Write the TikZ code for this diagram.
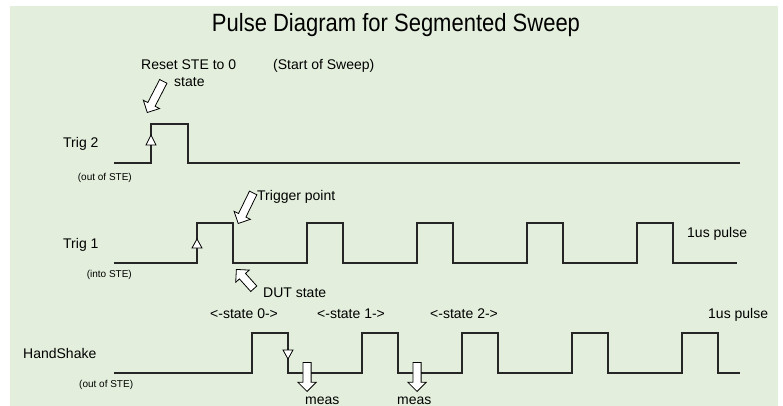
\documentclass[tikz,border=0pt]{standalone}
\usepackage{fontspec}
\setmainfont{Liberation Sans}
\usetikzlibrary{shapes.arrows}
\definecolor{bg}{HTML}{E3EFDC}
\begin{document}
\begin{tikzpicture}[x=1pt,y=-1pt,
  sig/.style={line width=1.1pt, draw=black!85, line join=miter},
  lbl/.style={font=\fontsize{14}{16}\selectfont, inner sep=0pt},
  smalllbl/.style={font=\fontsize{10}{12}\selectfont, inner sep=0pt},
  blk/.style={single arrow, draw=black, line width=0.8pt, fill=white,
    minimum width=18pt, inner sep=3.7pt, single arrow head extend=5pt,
    single arrow head indent=0pt},
  tri/.style={draw=black, line width=0.8pt, fill=white}]
\useasboundingbox (0,0) rectangle (783,406);
\fill[bg] (10,6) rectangle (778,406);

% title
\node[inner sep=0pt, anchor=base, font=\fontsize{25}{28}\selectfont, xscale=0.88] (title) at (396,32) {Pulse Diagram for Segmented Sweep};

% Trig 2
\draw[sig] (114,163) -- (151,163) -- (151,124) -- (188,124) -- (188,163) -- (740,163);
\draw[tri] (151,135) -- (146,145) -- (156,145) -- cycle;
\node[lbl, anchor=base west] (trig2) at (63,148) {Trig 2};
\node[smalllbl, anchor=base east] (out2) at (132,180) {(out of STE)};
\node[lbl, anchor=base west] (reset) at (141,70) {Reset STE to 0};
\node[lbl, anchor=base west] (resetb) at (174,87) {state};
\node[lbl, anchor=base west] (start) at (273,70) {(Start of Sweep)};
\node[blk, minimum height=35pt, rotate=242.7, anchor=tip] (resetarrow) at (147,113) {};

% Trig 1
\draw[sig] (114,263) -- (197,263) -- (197,223) -- (233,223) -- (233,263)
  -- (307,263) -- (307,223) -- (343,223) -- (343,263)
  -- (417,263) -- (417,223) -- (453,223) -- (453,263)
  -- (527,263) -- (527,223) -- (563,223) -- (563,263)
  -- (637,263) -- (637,223) -- (673,223) -- (673,263) -- (737,263);
\draw[tri] (197,239) -- (192,248) -- (202,248) -- cycle;
\node[lbl, anchor=base west] (trig1) at (63,248) {Trig 1};
\node[smalllbl, anchor=base east] (into1) at (132,277) {(into STE)};
\node[lbl, anchor=base west] (pulse1) at (687,237) {1us pulse};
\node[lbl, anchor=base west] (trigpt) at (257,200) {Trigger point};
\node[blk, minimum height=34pt, rotate=244, anchor=tip] (trigarrow) at (238,224) {};
\node[lbl, anchor=base west] (dut) at (263,297) {DUT state};
\node[blk, minimum height=26pt, rotate=132, anchor=tip] (dutarrow) at (236,269) {};

% HandShake
\draw[sig] (114,373) -- (252,373) -- (252,333) -- (288,333) -- (288,373)
  -- (362,373) -- (362,333) -- (398,333) -- (398,373)
  -- (462,373) -- (462,333) -- (498,333) -- (498,373)
  -- (572,373) -- (572,333) -- (608,333) -- (608,373)
  -- (682,373) -- (682,333) -- (718,333) -- (718,373) -- (740,373);
\draw[line width=1.8pt, black!85] (427,373) -- (435,373);
\draw[tri] (283,350) -- (293,350) -- (288,359) -- cycle;
\node[lbl, anchor=base west] (hs) at (23,358) {HandShake};
\node[smalllbl, anchor=base west] (ouths) at (79,387) {(out of STE)};
\node[lbl, anchor=base west] (st0) at (210,318) {<-state 0->};
\node[lbl, anchor=base west] (st1) at (317,318) {<-state 1->};
\node[lbl, anchor=base west] (st2) at (430,318) {<-state 2->};
\node[lbl, anchor=base west] (pulse2) at (708,318) {1us pulse};
\node[blk, minimum height=29pt, rotate=270, anchor=tip] (meas1arrow) at (307,392) {};
\node[blk, minimum height=29pt, rotate=270, anchor=tip] (meas2arrow) at (417,392) {};
\node[lbl, anchor=base west] (meas1) at (305,404) {meas};
\node[lbl, anchor=base west] (meas2) at (397,404) {meas};
\end{tikzpicture}
\end{document}
